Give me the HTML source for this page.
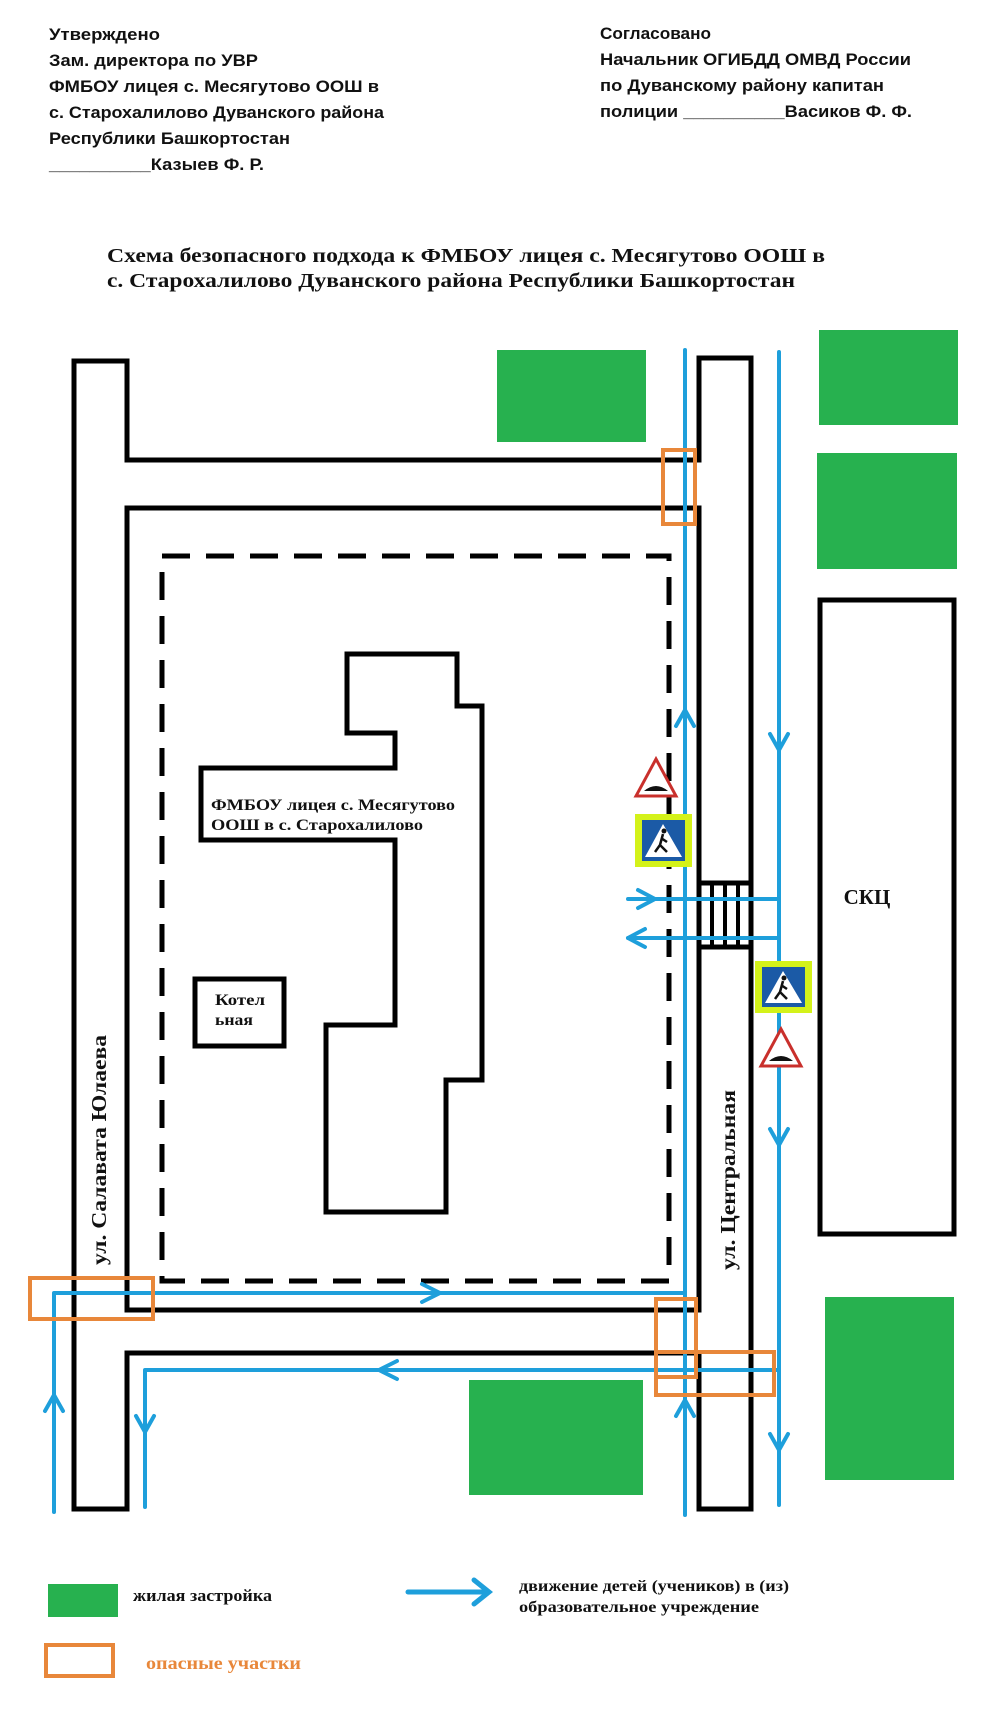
<!DOCTYPE html>
<html><head><meta charset="utf-8"><style>
html,body{margin:0;padding:0;background:#fff;}
svg{display:block;}
.h{font-family:"Liberation Sans",sans-serif;font-weight:bold;font-size:17px;fill:#111;}
.s{font-family:"Liberation Serif",serif;font-weight:bold;fill:#111;}
</style></head><body>
<svg width="990" height="1722" viewBox="0 0 990 1722" xmlns="http://www.w3.org/2000/svg">
<rect width="990" height="1722" fill="#fff"/>
<text class="h" x="49" y="40" textLength="111" lengthAdjust="spacingAndGlyphs">Утверждено</text>
<text class="h" x="49" y="66" textLength="209" lengthAdjust="spacingAndGlyphs">Зам. директора по УВР</text>
<text class="h" x="49" y="92" textLength="330" lengthAdjust="spacingAndGlyphs">ФМБОУ лицея с. Месягутово ООШ в</text>
<text class="h" x="49" y="118" textLength="335" lengthAdjust="spacingAndGlyphs">с. Старохалилово Дуванского района</text>
<text class="h" x="49" y="144" textLength="241" lengthAdjust="spacingAndGlyphs">Республики Башкортостан</text>
<text class="h" x="49" y="170" textLength="215" lengthAdjust="spacingAndGlyphs">__________Казыев Ф. Р.</text>
<text class="h" x="600" y="39" textLength="111" lengthAdjust="spacingAndGlyphs">Согласовано</text>
<text class="h" x="600" y="65" textLength="311" lengthAdjust="spacingAndGlyphs">Начальник ОГИБДД ОМВД России</text>
<text class="h" x="600" y="91" textLength="284" lengthAdjust="spacingAndGlyphs">по Дуванскому району капитан</text>
<text class="h" x="600" y="117" textLength="312" lengthAdjust="spacingAndGlyphs">полиции __________Васиков Ф. Ф.</text>
<text class="s" x="107" y="262" font-size="20" textLength="718" lengthAdjust="spacingAndGlyphs">Схема безопасного подхода к ФМБОУ лицея с. Месягутово ООШ в</text>
<text class="s" x="107" y="287" font-size="20" textLength="688" lengthAdjust="spacingAndGlyphs">с. Старохалилово Дуванского района Республики Башкортостан</text>

<g fill="#27b14f">
<rect x="497" y="350" width="149" height="92"/>
<rect x="819" y="330" width="139" height="95"/>
<rect x="817" y="453" width="140" height="116"/>
<rect x="825" y="1297" width="129" height="183"/>
<rect x="469" y="1380" width="174" height="115"/>
</g>
<rect x="820" y="600" width="134" height="634" fill="none" stroke="#000" stroke-width="5"/>
<text class="s" x="867" y="904" font-size="21" text-anchor="middle">СКЦ</text>

<g stroke="#000" stroke-width="5" fill="none" stroke-linecap="square">
<path d="M74 1509 V361 H127 V460 H699 V358 H751 V1509 H699 V1353 H127 V1509 H74"/>
<path d="M127 508 H699 V1310 H127 Z"/>
</g>
<rect x="162" y="556" width="507" height="725" fill="none" stroke="#000" stroke-width="5" stroke-dasharray="28,16"/>
<path d="M347 654 H457 V706 H482 V1080 H446 V1212 H326 V1025 H395 V840 H201 V768 H395 V733 H347 Z" fill="none" stroke="#000" stroke-width="5"/>
<text class="s" x="211" y="810" font-size="16" textLength="244" lengthAdjust="spacingAndGlyphs">ФМБОУ лицея с. Месягутово</text>
<text class="s" x="211" y="830" font-size="16" textLength="212" lengthAdjust="spacingAndGlyphs">ООШ в с. Старохалилово</text>
<rect x="195" y="979" width="89" height="67" fill="none" stroke="#000" stroke-width="5"/>
<text class="s" x="215" y="1005" font-size="16" textLength="50" lengthAdjust="spacingAndGlyphs">Котел</text>
<text class="s" x="215" y="1025" font-size="16" textLength="38" lengthAdjust="spacingAndGlyphs">ьная</text>

<rect x="699" y="883" width="52" height="64" fill="#fff" stroke="#000" stroke-width="5"/>
<g stroke="#000" stroke-width="4"><line x1="712" y1="883" x2="712" y2="947"/><line x1="725" y1="883" x2="725" y2="947"/><line x1="738" y1="883" x2="738" y2="947"/></g>

<text class="s" font-size="21" transform="translate(106,1150) rotate(-90)" text-anchor="middle" textLength="230" lengthAdjust="spacingAndGlyphs">ул. Салавата Юлаева</text>
<text class="s" font-size="21" transform="translate(735,1180) rotate(-90)" text-anchor="middle" textLength="180" lengthAdjust="spacingAndGlyphs">ул. Центральная</text>

<g stroke="#1e9fdb" stroke-width="4" fill="none" stroke-linecap="round" stroke-linejoin="round">
<line x1="685" y1="350" x2="685" y2="1515"/>
<line x1="779" y1="352" x2="779" y2="1505"/>
<path d="M54 1512 V1293 H685"/>
<path d="M145 1507 V1370 H779"/>
<line x1="628" y1="899" x2="779" y2="899"/>
<line x1="628" y1="938" x2="779" y2="938"/>
<path d="M676 726 L685 710 L694 726"/>
<path d="M676 1416 L685 1400 L694 1416"/>
<path d="M45 1411 L54 1395 L63 1411"/>
<path d="M770 734 L779 750 L788 734"/>
<path d="M770 1129 L779 1145 L788 1129"/>
<path d="M770 1434 L779 1450 L788 1434"/>
<path d="M136 1416 L145 1432 L154 1416"/>
<path d="M422 1284 L440 1293 L422 1302"/>
<path d="M638 890 L655 899 L638 908"/>
<path d="M645 929 L628 938 L645 947"/>
<path d="M397 1361 L379 1370 L397 1379"/>
</g>

<g stroke="#e8873a" stroke-width="4" fill="none">
<rect x="663" y="450" width="32" height="74"/>
<rect x="30" y="1278" width="123" height="41"/>
<rect x="656" y="1299" width="40" height="78"/>
<rect x="656" y="1352" width="118" height="43"/>
</g>

<g>
<polygon points="656,759 676,796 636,796" fill="#fff" stroke="#c9302c" stroke-width="3"/>
<path d="M644 791 Q656 781 668 791 Z" fill="#111"/>
<polygon points="781,1029 801,1066 761,1066" fill="#fff" stroke="#c9302c" stroke-width="3"/>
<path d="M769 1061 Q781 1051 793 1061 Z" fill="#111"/>
<rect x="635" y="814" width="57" height="53" fill="#d4f21a"/>
<rect x="642" y="820" width="43" height="41" fill="#1b5aa6"/>
<polygon points="663,824 682,857 645,857" fill="#fff"/>
<path d="M663 834 L660 845 L655 852 M660 845 L667 852 M661 838 L667 842" stroke="#111" stroke-width="2.5" fill="none"/>
<circle cx="664" cy="831" r="2.5" fill="#111"/>
<rect x="755" y="961" width="57" height="52" fill="#d4f21a"/>
<rect x="762" y="967" width="43" height="40" fill="#1b5aa6"/>
<polygon points="783,971 802,1003 765,1003" fill="#fff"/>
<path d="M783 981 L780 992 L775 999 M780 992 L787 999 M781 985 L787 989" stroke="#111" stroke-width="2.5" fill="none"/>
<circle cx="784" cy="978" r="2.5" fill="#111"/>
</g>

<rect x="48" y="1584" width="70" height="33" fill="#27b14f"/>
<text class="s" x="133" y="1601" font-size="17" textLength="139" lengthAdjust="spacingAndGlyphs">жилая застройка</text>
<g stroke="#1e9fdb" stroke-width="5" fill="none" stroke-linecap="round">
<line x1="408" y1="1592" x2="488" y2="1592"/>
<path d="M474 1580 L489 1592 L474 1604"/>
</g>
<text class="s" x="519" y="1591" font-size="16" textLength="270" lengthAdjust="spacingAndGlyphs">движение детей (учеников) в (из)</text>
<text class="s" x="519" y="1612" font-size="16" textLength="240" lengthAdjust="spacingAndGlyphs">образовательное учреждение</text>
<rect x="46" y="1645" width="67" height="31" fill="none" stroke="#e8873a" stroke-width="4"/>
<text class="s" x="146" y="1669" font-size="18" style="fill:#e8873a" textLength="155" lengthAdjust="spacingAndGlyphs">опасные участки</text>
</svg>
</body></html>
